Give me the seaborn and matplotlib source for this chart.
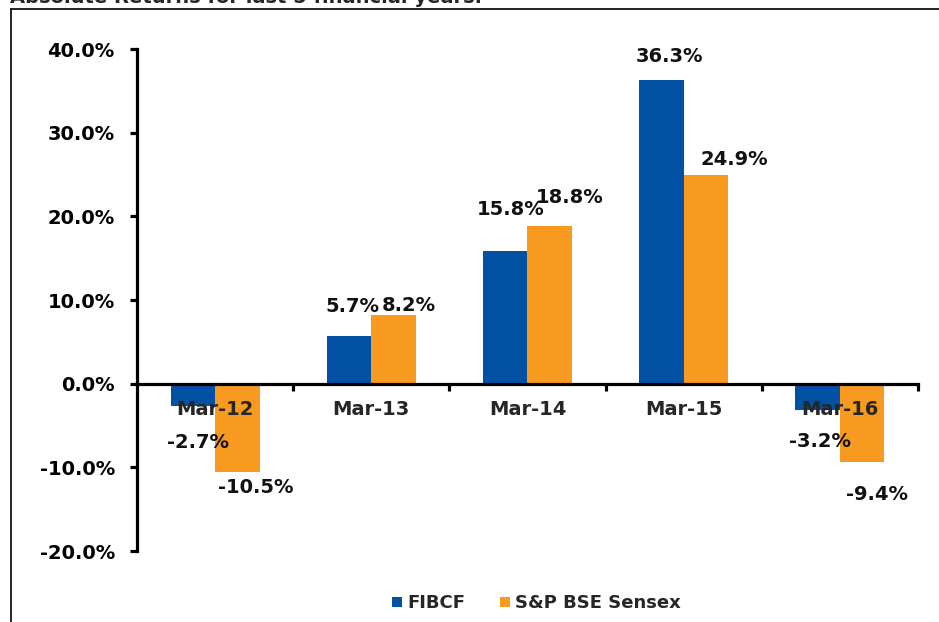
import pandas as pd
import matplotlib.pyplot as plt
import matplotlib.ticker as mticker
from matplotlib.lines import Line2D
import seaborn as sns

# data
years = ['Mar-12', 'Mar-13', 'Mar-14', 'Mar-15', 'Mar-16']
fibcf = [-2.7, 5.7, 15.8, 36.3, -3.2]
sensex = [-10.5, 8.2, 18.8, 24.9, -9.4]
series_names = ['FIBCF', 'S&P BSE Sensex']
y_ticks = [-20, -10, 0, 10, 20, 30, 40]

# label nudges (pixels) to mimic the hand placed labels of the original
fibcf_offsets = [(5, -36), (3, 29), (5, 42), (8, 23), (2, -31)]
sensex_offsets = [(18, -16), (15, 10), (20, 29), (28, 16), (15, -32)]

colors = ['#0251A5', '#F89A1F']


def make_chart():
    df = pd.DataFrame({
        'Year': years * 2,
        'Return': fibcf + sensex,
        'Series': [series_names[0]] * len(years) + [series_names[1]] * len(years),
    })

    sns.set_style('white')
    plt.rcParams['font.family'] = ['DejaVu Sans']
    plt.rcParams['font.weight'] = 'bold'

    fig = plt.figure(figsize=(9.39, 6.22), dpi=100)
    ax = fig.add_axes([0.1459, 0.1141, 0.8317, 0.8071])

    sns.barplot(data=df, x='Year', y='Return', hue='Series', palette=colors,
                width=0.57, saturation=1, linewidth=0, ax=ax, legend=False)
    # keep the category labels on top of the bars, as in the original
    for bar in ax.patches:
        bar.set_zorder(0.5)

    ax.set_ylim(-20, 40)
    ax.set_xlim(-0.5, 4.5)
    ax.set_yticks(y_ticks)
    ax.yaxis.set_major_formatter(mticker.FuncFormatter(lambda v, p: f"{v:.1f}%"))
    ax.set_xlabel('')
    ax.set_ylabel('')

    for side in ['top', 'right']:
        ax.spines[side].set_visible(False)
    ax.spines['left'].set_linewidth(2.3)
    ax.spines['left'].set_color('black')
    ax.spines['bottom'].set_position(('data', 0))
    ax.spines['bottom'].set_linewidth(2.3)
    ax.spines['bottom'].set_color('black')

    ax.tick_params(axis='y', which='major', direction='out', length=5, width=2.3,
                   pad=11, labelsize=14, left=True, colors='black')
    ax.tick_params(axis='x', which='major', length=0, pad=12, labelsize=14)
    ax.xaxis.set_minor_locator(mticker.FixedLocator([0.5, 1.5, 2.5, 3.5, 4.5]))
    ax.tick_params(axis='x', which='minor', direction='out', length=5, width=2.3,
                   bottom=True, colors='black')
    for lbl in ax.get_xticklabels() + ax.get_yticklabels():
        lbl.set_fontweight('bold')
    ax.grid(False)

    # value labels
    for cont, vals, offs in zip(ax.containers, [fibcf, sensex], [fibcf_offsets, sensex_offsets]):
        for bar, v, (dx, dy) in zip(cont, vals, offs):
            xc = bar.get_x() + bar.get_width() / 2
            ax.annotate(f"{v:.1f}%", xy=(xc, v), xytext=(dx, dy),
                        textcoords='offset pixels', ha='center', va='center',
                        fontsize=14, fontweight='bold', color='#111111',
                        annotation_clip=False)

    # legend at the bottom
    handles = [Line2D([], [], marker='s', linestyle='', markersize=7.5,
                      markerfacecolor=c, markeredgewidth=0) for c in colors]
    fig.legend(handles, series_names, loc='center', bbox_to_anchor=(0.57, 0.03),
               ncol=2, frameon=False, handletextpad=0.15,
               columnspacing=1.8, handlelength=0.8, prop={'weight': 'bold', 'size': 13})

    # frame lines of the surrounding box, and the clipped heading
    fig.add_artist(Line2D([11 / 939, 11 / 939], [0, 1 - 9 / 622], color='black', lw=1.2))
    fig.add_artist(Line2D([11 / 939, 1], [1 - 9 / 622, 1 - 9 / 622], color='black', lw=1.2))
    fig.text(10 / 939, 1 - 3 / 622, 'Absolute Returns for last 5 financial years.',
             fontsize=14, fontweight='bold', va='baseline', ha='left')

    fig.savefig('out.png', dpi=100)


if __name__ == '__main__':
    make_chart()
